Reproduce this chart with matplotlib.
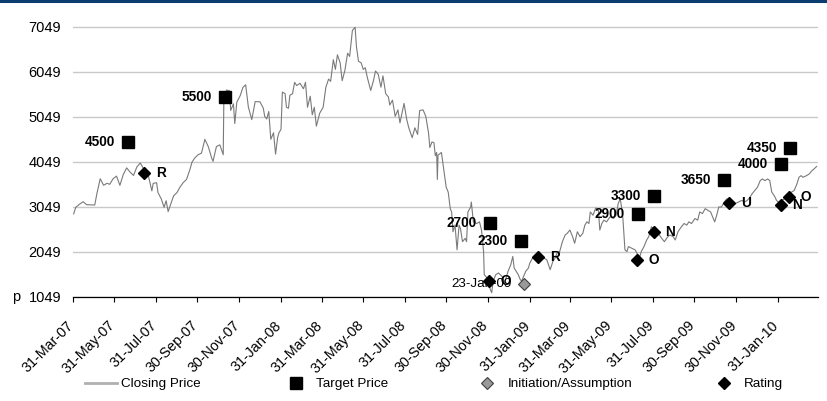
import matplotlib
matplotlib.use('Agg')
import matplotlib.pyplot as plt
from matplotlib import font_manager
from matplotlib.lines import Line2D
import matplotlib.transforms as mtransforms
import pandas as pd

# ---------------- data ----------------
start_date = '2007-03-31'
end_date = '2010-03-31'

price_day_offsets = [
    1, 4, 10, 15, 20, 32, 35, 40, 45, 50, 54, 59, 64, 69, 74, 79, 84, 89, 94, 99,
    103, 111, 116, 118, 123, 125, 130, 134, 137, 140, 143, 148, 153, 157, 162, 167,
    172, 175, 179, 184, 189, 194, 199, 204, 206, 211, 216, 221, 222, 226, 230, 232,
    236, 238, 241, 246, 250, 254, 258, 263, 268, 275, 280, 282, 285, 288, 291, 295,
    298, 301, 303, 306, 308, 312, 314, 317, 319, 323, 326, 329, 334, 339, 342, 345,
    349, 352, 355, 358, 363, 368, 372, 376, 379, 383, 386, 389, 393, 396, 400, 404,
    407, 411, 415, 417, 420, 424, 427, 430, 433, 438, 442, 445, 449, 453, 456, 460,
    464, 466, 470, 474, 478, 481, 484, 487, 491, 494, 499, 503, 507, 510, 515, 519,
    523, 525, 528, 531, 533, 535, 536, 537, 542, 545, 549, 552, 555, 557, 559, 562,
    565, 568, 570, 573, 577, 579, 581, 585, 586, 589, 594, 598, 601, 604, 605, 609,
    611, 613, 616, 618, 622, 626, 631, 635, 640, 644, 647, 649, 652, 655, 658, 660,
    663, 666, 670, 672, 676, 680, 684, 689, 693, 697, 702, 706, 709, 712, 716, 720,
    724, 727, 731, 735, 738, 742, 746, 750, 753, 756, 759, 761, 765, 769, 773, 775,
    778, 781, 785, 790, 795, 799, 802, 805, 807, 809, 812, 815, 817, 822, 827, 831,
    834, 836, 840, 844, 847, 851, 856, 861, 866, 870, 875, 878, 883, 886, 890, 895,
    899, 903, 906, 910, 915, 919, 922, 926, 930, 934, 938, 942, 944, 947, 950, 954,
    958, 962, 965, 969, 974, 979, 984, 988, 992, 996, 999, 1003, 1007, 1011, 1014,
    1018, 1022, 1025, 1028, 1032, 1035, 1040, 1043, 1047, 1052, 1057, 1061, 1065,
    1068, 1071, 1074, 1079, 1083, 1087, 1090, 1094,
]

closing_prices = [
    2896, 3042, 3115, 3166, 3100, 3093, 3334, 3677, 3531, 3575, 3553, 3677, 3735, 3531, 3772, 3918, 3823, 3750, 3940, 4027,
    3918, 3735, 3407, 3575, 3589, 3370, 3224, 3042, 3188, 2947, 3078, 3297, 3370, 3480, 3589, 3662,
    3881, 4042, 4137, 4210, 4246, 4553, 4392, 4137, 4064, 4392, 4429, 4210, 5524, 5648, 5633, 5195,
    5341, 4903, 5378, 5524, 5706, 5765, 5268, 4991, 5390, 5387, 5243, 5063, 5005, 5171, 4553, 4699,
    4224, 4589, 4699, 4772, 5603, 5567, 5265, 5243, 5531, 5567, 5819, 5747, 5798, 5675, 5819, 5265,
    5510, 5099, 5265, 4845, 5135, 5265, 5711, 5891, 5841, 6323, 6107, 6431, 6251, 5855, 6086, 6467,
    6395, 6971, 7043, 6611, 6287, 6251, 6107, 6143, 5927, 5639, 5855, 6071, 5999, 5711, 5963, 5567,
    5495, 5315, 5423, 5063, 5207, 4918, 5135, 5351, 4991, 4808, 4589, 4808, 4662, 5193, 5207, 5063,
    4699, 4370, 4494, 4480, 4188, 4261, 3662, 4202, 4261, 3930, 3489, 3379, 3012, 2939, 2499, 2646,
    2096, 2646, 2572, 2279, 2353, 2279, 2939, 3049, 3159, 2719, 2682, 2719, 2536, 2059, 1546, 1473,
    1436, 1253, 1143, 1400, 1546, 1583, 1510, 1363, 1620, 1766, 1950, 1693, 1620, 1546, 1436, 1400,
    1510, 1620, 1693, 1803, 1913, 1986, 1913, 1950, 1913, 1876, 1656, 1840, 1913, 2023, 2059, 2279,
    2426, 2463, 2536, 2389, 2243, 2499, 2389, 2463, 2646, 2719, 2682, 2939, 2866, 3027, 2976, 2536,
    2682, 2756, 2719, 2829, 2793, 2866, 3122, 3232, 3049, 2793, 2096, 2059, 2169, 2133, 2096, 1986,
    1950, 2059, 2169, 2316, 2389, 2609, 2536, 2463, 2353, 2279, 2389, 2426, 2389, 2316, 2499, 2609,
    2682, 2646, 2719, 2682, 2793, 2756, 2939, 2902, 3012, 2976, 2939, 2793, 2719, 2866, 3049, 3049,
    3159, 3232, 3196, 3159, 3122, 3159, 3196, 3159, 3196, 3269, 3342, 3416, 3489, 3635, 3672,
    3635, 3672, 3635, 3379, 3291, 3196, 3122, 3196, 3232, 3291, 3379, 3416, 3562,
    3709, 3745, 3709, 3745, 3782, 3855, 3892, 3950,
]

target_dates = ['2007-06-20', '2007-11-10', '2008-12-03', '2009-01-18', '2009-07-09',
                '2009-08-01', '2009-11-13', '2010-02-05', '2010-02-18']
target_prices = [4500, 5500, 2700, 2300, 2900, 3300, 3650, 4000, 4350]
target_labels = ['4500', '5500', '2700', '2300', '2900', '3300', '3650', '4000', '4350']

rating_dates = ['2007-07-13', '2008-12-02', '2009-02-12', '2009-07-07', '2009-08-01',
                '2009-11-20', '2010-02-04', '2010-02-16']
rating_prices = [3811, 1404, 1930, 1871, 2487, 3131, 3093, 3278]
rating_labels = ['R', 'O', 'R', 'O', 'N', 'U', 'N', 'O']

initiation_dates = ['2009-01-23']
initiation_prices = [1338]
initiation_labels = ['23-Jan-09']

y_ticks = [1049, 2049, 3049, 4049, 5049, 6049, 7049]
x_tick_dates = ['2007-03-31', '2007-05-31', '2007-07-31', '2007-09-30', '2007-11-30',
                '2008-01-31', '2008-03-31', '2008-05-31', '2008-07-31', '2008-09-30',
                '2008-11-30', '2009-01-31', '2009-03-31', '2009-05-31', '2009-07-31',
                '2009-09-30', '2009-11-30', '2010-01-31']
x_tick_labels = ['31-Mar-07', '31-May-07', '31-Jul-07', '30-Sep-07', '30-Nov-07',
                 '31-Jan-08', '31-Mar-08', '31-May-08', '31-Jul-08', '30-Sep-08',
                 '30-Nov-08', '31-Jan-09', '31-Mar-09', '31-May-09', '31-Jul-09',
                 '30-Sep-09', '30-Nov-09', '31-Jan-10']
y_unit_label = 'p'
legend_labels = ['Closing Price', 'Target Price', 'Initiation/Assumption', 'Rating']

# ---------------- fonts ----------------
names = {f.name for f in font_manager.fontManager.ttflist}
if 'Liberation Sans Narrow' in names:
    NARROW = ['Liberation Sans Narrow', 'DejaVu Sans']
    nscale = 1.2
else:
    NARROW = ['Liberation Sans', 'DejaVu Sans']
    nscale = 1.0
REG = ['Liberation Sans', 'DejaVu Sans']

FS_XTICK = 10.3 * nscale
FS_LEG = 9.7 * nscale
FS_ANN = 9.8 * nscale
FS_INIT = 9.6 * nscale

# ---------------- figure ----------------
W, H = 828, 401
fig = plt.figure(figsize=(W / 100, H / 100), dpi=100)
L, R, B, T = 73, 818, 297, 26.3
ax = fig.add_axes([L / W, 1 - B / H, (R - L) / W, (B - T) / H])

dates = pd.Timestamp(start_date) + pd.to_timedelta(price_day_offsets, unit='D')
ax.plot(dates, closing_prices, color='#7a7a7a', lw=0.8, zorder=2)

ax.plot(pd.to_datetime(target_dates), target_prices, ls='none', marker='s',
        ms=8.6, color='black', zorder=4)
ax.plot(pd.to_datetime(rating_dates), rating_prices, ls='none', marker='D',
        ms=6.2, color='black', zorder=4)
ax.plot(pd.to_datetime(initiation_dates), initiation_prices, ls='none', marker='D',
        ms=6.2, mfc='#999999', mec='#404040', mew=0.8, zorder=4)

for d, p, lab in zip(target_dates, target_prices, target_labels):
    ax.annotate(lab, (pd.Timestamp(d), p), xytext=(-9.4, 0), textcoords='offset points',
                ha='right', va='center', fontsize=FS_ANN, fontweight='bold',
                family=NARROW, zorder=5)
for d, p, lab in zip(rating_dates, rating_prices, rating_labels):
    ax.annotate(lab, (pd.Timestamp(d), p), xytext=(8.6, 0), textcoords='offset points',
                ha='left', va='center', fontsize=FS_ANN, fontweight='bold',
                family=NARROW, zorder=5)
for d, p, lab in zip(initiation_dates, initiation_prices, initiation_labels):
    ax.annotate(lab, (pd.Timestamp(d), p), xytext=(-9.4, 0), textcoords='offset points',
                ha='right', va='center', fontsize=FS_INIT, family=NARROW, zorder=5)

ax.set_xlim(pd.Timestamp(start_date), pd.Timestamp(end_date))
ax.set_ylim(1049, 7064)
ax.set_yticks(y_ticks)
ax.set_yticklabels([str(v) for v in y_ticks], family=REG, fontsize=10.5)
ax.tick_params(axis='y', length=0, pad=8.6, colors='black')
ax.yaxis.grid(True, color='#c8c8c8', lw=1.0)
ax.set_axisbelow(True)

ax.set_xticks(pd.to_datetime(x_tick_dates))
ax.set_xticklabels(x_tick_labels, rotation=45, ha='right', va='center',
                   rotation_mode='anchor', family=NARROW, fontsize=FS_XTICK)
ax.tick_params(axis='x', direction='out', length=3.6, width=0.8, color='black', pad=15.3)
shift = mtransforms.ScaledTranslation(-1.5 / 100, 0, fig.dpi_scale_trans)
for lbl in ax.get_xticklabels():
    lbl.set_transform(lbl.get_transform() + shift)

for s in ['left', 'right', 'top']:
    ax.spines[s].set_visible(False)
ax.spines['bottom'].set_color('black')
ax.spines['bottom'].set_linewidth(0.9)

ax.text(-0.0765, 1049, y_unit_label,
        transform=mtransforms.blended_transform_factory(ax.transAxes, ax.transData),
        ha='center', va='center', fontsize=10.5, family=REG)

# top rule
fig.add_artist(Line2D([0, 1], [1 - 1.2 / H, 1 - 1.2 / H], transform=fig.transFigure,
                      color='#0b3c70', lw=2.2))

# legend
handles = [
    Line2D([], [], color='#b0b0b0', lw=2.0),
    Line2D([], [], ls='none', marker='s', ms=8.6, color='black'),
    Line2D([], [], ls='none', marker='D', ms=6.2, mfc='#999999', mec='#404040', mew=0.8),
    Line2D([], [], ls='none', marker='D', ms=6.2, color='black'),
]
legend_x = [85, 280, 471, 708]
for h, lab, lx in zip(handles, legend_labels, legend_x):
    fig.legend([h], [lab], loc='center left', bbox_to_anchor=(lx / W, 1 - 384 / H),
               frameon=False, borderpad=0, borderaxespad=0, handlelength=2.4,
               handletextpad=0.3, prop={'family': NARROW, 'size': FS_LEG})

fig.savefig('out.png', dpi=100)
